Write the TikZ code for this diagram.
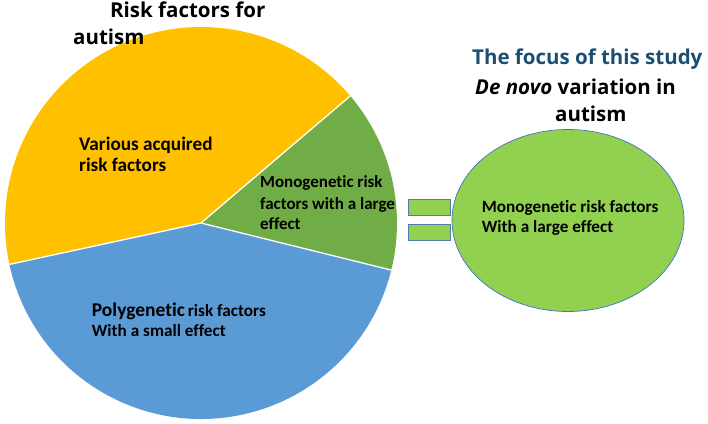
\documentclass[tikz,border=0pt]{standalone}
\usepackage{fontspec}
\usetikzlibrary{calc,shapes.geometric}
\setmainfont{Carlito}[Ligatures={NoCommon}]
\newfontfamily\titlefont{Open Sans}
\definecolor{pieyellow}{HTML}{FFC000}
\definecolor{piegreen}{HTML}{70AD47}
\definecolor{pieblue}{HTML}{5B9BD5}
\definecolor{lightgreen}{HTML}{92D050}
\definecolor{ellline}{HTML}{4472C4}
\definecolor{rectline}{HTML}{5279A8}
\definecolor{titleblue}{HTML}{1B4F72}
\tikzset{
  lbl/.style={anchor=base west, inner sep=0pt, font=\bfseries\fontsize{17.2}{20}\selectfont},
  ttl/.style={anchor=base west, inner sep=0pt, font=\titlefont\bfseries\fontsize{20.5}{24}\selectfont},
  sep/.style={draw=white, line width=1.3pt},
  eqbar/.style={fill=lightgreen, draw=rectline, line width=0.9pt}
}
\begin{document}
\begin{tikzpicture}[x=1pt,y=1pt]
\useasboundingbox (0,0) rectangle (708,423);
\coordinate (c) at (201,200);
% pie slices
\fill[pieyellow] (c) -- ++(40.4:196) arc[start angle=40.4, end angle=192.2, radius=196] -- cycle;
\fill[piegreen] (c) -- ++(-13.9:196) arc[start angle=-13.9, end angle=40.4, radius=196] -- cycle;
\fill[pieblue] (c) -- ++(192.2:196) arc[start angle=192.2, end angle=346.1, radius=196] -- cycle;
\coordinate (b1) at ($(c)+(40.4:196)$);
\coordinate (b2) at ($(c)+(-13.9:196)$);
\coordinate (b3) at ($(c)+(192.2:196)$);
\draw[sep] (c) -- (b1);
\draw[sep] (c) -- (b2);
\draw[sep] (c) -- (b3);
% equals bars
\draw[eqbar] (408,207.3) rectangle (450,224);
\draw[eqbar] (408,182.3) rectangle (450,199);
% ellipse
\node[ellipse, minimum width=232pt, minimum height=182pt, fill=lightgreen, draw=ellline, line width=0.7pt, inner sep=0pt] (ell) at (568,202.5) {};
% titles
\node[ttl] (t1) at (110,405) {Risk factors for};
\node[ttl] (t2) at (73,378) {autism};
\node[ttl, text=titleblue] (t3) at (472,358) {The focus of this study};
\node[ttl] (t4) at (475,328) {\itshape De novo\upshape{} variation in};
\node[ttl] (t5) at (555,301.4) {autism};
% labels
\node[lbl, font=\bfseries\fontsize{19.2}{22}\selectfont] (y1) at (79,272.3) {Various acquired};
\node[lbl, font=\bfseries\fontsize{19.2}{22}\selectfont] (y2) at (79,251.3) {risk factors};
\node[lbl, font=\bfseries\fontsize{17}{20}\selectfont] (g1) at (260,235) {Monogenetic risk};
\node[lbl, font=\bfseries\fontsize{17}{20}\selectfont] (g2) at (260,213) {factors with a large};
\node[lbl, font=\bfseries\fontsize{17}{20}\selectfont] (g3) at (260,193) {effect};
\node[lbl] (p1) at (91.7,107) {{\fontsize{19.5}{22}\selectfont Polygenetic}\,risk factors};
\node[lbl] (p2) at (91.7,87) {With a small effect};
\node[lbl] (e1) at (481.7,210) {Monogenetic risk factors};
\node[lbl] (e2) at (481.7,190) {With a large effect};
\end{tikzpicture}
\end{document}
